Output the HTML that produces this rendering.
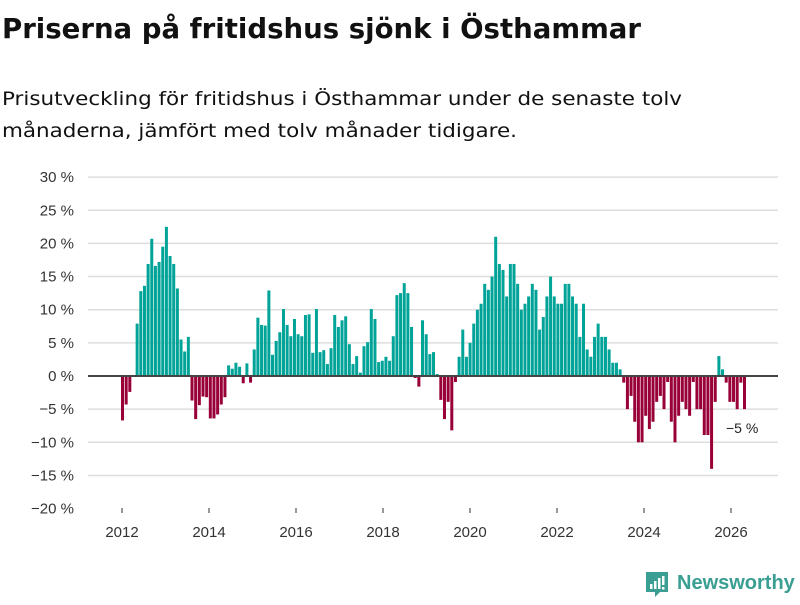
<!DOCTYPE html>
<html><head><meta charset="utf-8"><style>
body{margin:0;background:#fff;width:800px;height:600px;overflow:hidden;font-family:"Liberation Sans",sans-serif}
</style></head><body>
<svg width="800" height="600" xmlns="http://www.w3.org/2000/svg">
<text x="2" y="38" font-size="28" font-weight="bold" fill="#111" font-family="DejaVu Sans, sans-serif" textLength="639" lengthAdjust="spacingAndGlyphs">Priserna på fritidshus sjönk i Östhammar</text>
<text x="2" y="105" font-size="19" fill="#111" font-family="DejaVu Sans, sans-serif" textLength="680" lengthAdjust="spacingAndGlyphs">Prisutveckling för fritidshus i Östhammar under de senaste tolv</text>
<text x="2" y="137" font-size="19" fill="#111" font-family="DejaVu Sans, sans-serif" textLength="515" lengthAdjust="spacingAndGlyphs">månaderna, jämfört med tolv månader tidigare.</text>
<g id="grid"></g><g id="bars"></g><g id="axes"></g>
<text x="726" y="433" font-size="14" fill="#222">−5 %</text>
<g>
<path d="M646 572h22v20h-8l-5 5v-5h-9z" fill="#3a9e92"/>
<rect x="650" y="584" width="2.5" height="5" fill="#fff"/><rect x="654" y="581" width="2.5" height="8" fill="#fff"/><rect x="658" y="578" width="2.5" height="11" fill="#fff"/><rect x="662" y="576" width="2.5" height="9" fill="#fff"/><rect x="662" y="587" width="2.5" height="2.5" fill="#fff"/>
<text x="677" y="589" font-size="20" font-weight="bold" fill="#3a9e92">Newsworthy</text>
</g>
</svg>
<script>
const values=[-6.7,-4.3,-2.4,null,7.9,12.8,13.6,16.9,20.7,16.6,17.2,19.5,22.5,18.1,16.9,13.2,5.5,3.7,5.9,-3.7,-6.5,-4.4,-3.1,-3.2,-6.4,-6.4,-5.8,-4.3,-3.2,1.6,1.1,2.0,1.4,-1.1,1.9,-1.0,4.0,8.8,7.7,7.6,12.9,
3.2,5.3,6.6,10.1,7.7,6.0,8.6,6.3,6.0,9.2,9.3,3.5,10.1,3.6,3.9,1.8,4.2,9.2,7.4,8.4,9.0,4.8,1.8,3.0,0.5,4.5,5.1,10.1,8.6,2.1,2.3,2.9,2.3,6.0,12.2,12.5,14.0,12.5,7.4,-0.3,-1.6,8.4,6.3,3.3,3.6,0.3,
-3.6,-6.5,-3.9,-8.2,-0.9,2.9,7.0,2.9,5.0,7.9,10.0,10.9,13.9,13.0,15.0,21.0,16.9,16.0,12.0,16.9,16.9,13.9,10.0,10.9,12.0,13.9,13.0,7.0,8.9,12.0,15.0,12.0,10.9,10.9,13.9,13.9,12.0,10.9,5.9,10.9,4.0,2.9,5.9,7.9,5.9,5.9,4.0,2.0,2.0,1.0,
-1.0,-5.0,-3.0,-6.9,-10.0,-10.0,-6.0,-8.0,-6.9,-3.9,-3.0,-5.0,-0.9,-6.9,-10.0,-6.0,-3.9,-5.0,-6.0,-0.9,-5.0,-5.0,-8.9,-8.9,-14.0,-3.9,3.0,1.0,-1.0,-3.9,-3.9,-5.0,-1.0,-5.0];
const yTicks=[30,25,20,15,10,5,0,-5,-10,-15,-20];
const yearTicks=[2012,2014,2016,2018,2020,2022,2024,2026];
const NS="http://www.w3.org/2000/svg";
const y=v=>376-(v)*6.63;
const x=i=>122.5+i*(622/170);
const xYear=yr=>122+(yr-2012)*43.5;
function mk(t,a,p){const e=document.createElementNS(NS,t);for(const k in a)e.setAttribute(k,a[k]);p.appendChild(e);return e;}
const grid=document.getElementById('grid'),bars=document.getElementById('bars'),axes=document.getElementById('axes');
yTicks.forEach(v=>{
  if(v!==0&&v!==-20){const l=mk('line',{x1:88,x2:778,y1:y(v),y2:y(v),stroke:'#dedede','stroke-width':1.5},grid);
  
  }
  const t=mk('text',{x:74,y:y(v)+5,'text-anchor':'end','font-size':15,fill:'#333'},axes);
  t.textContent=(v<0?'−'+(-v):v)+' %';
  
  
});
values.forEach((v,i)=>{
  if(v===null)return;
  const r=mk('rect',{x:x(i)-1.5,width:3,y:Math.min(y(v),376),height:Math.abs(y(v)-376),fill:v>=0?'#00a398':'#990038'},bars);
  
  
});
const z=mk('line',{x1:88,x2:778,y1:376,y2:376,stroke:'#444','stroke-width':2},axes);


yearTicks.forEach(yr=>{
  const tk=mk('line',{x1:xYear(yr),x2:xYear(yr),y1:508,y2:513,stroke:'#333','stroke-width':1},axes);
  
  
  const t=mk('text',{x:xYear(yr),y:537,'text-anchor':'middle','font-size':15,fill:'#333'},axes);
  t.textContent=yr;
  
  
});
</script>
</body></html>
